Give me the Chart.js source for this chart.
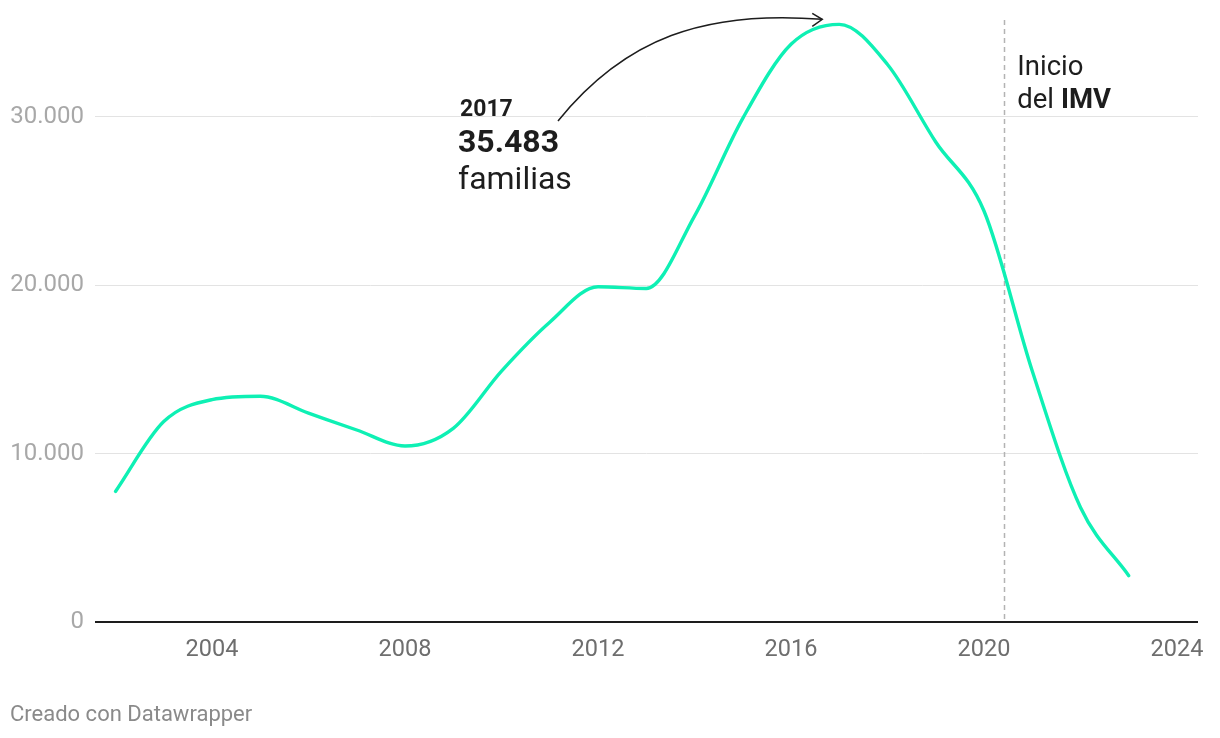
<!DOCTYPE html>
<html lang="es">
<head>
<meta charset="utf-8">
<title>Familias</title>
<script src="https://cdn.jsdelivr.net/npm/chart.js@4/dist/chart.umd.min.js"></script>
<style>
  html, body { margin: 0; padding: 0; background: #fff; }
  #wrap { position: relative; width: 1220px; height: 738px; }
</style>
</head>
<body>
<div id="wrap"><canvas id="chart" width="1220" height="738"></canvas></div>
<script>
// Datos
const years = [2002, 2003, 2004, 2005, 2006, 2007, 2008, 2009, 2010, 2011, 2012,
  2013, 2014, 2015, 2016, 2017, 2018, 2019, 2020, 2021, 2022, 2023];
const familias = [7750, 11900, 13200, 13400, 12400, 11400, 10450, 11500, 14900, 17800, 19900,
  19800, 24100, 29900, 34300, 35483, 33100, 28500, 24400, 14900, 6800, 2750];
const xTicks = [2004, 2008, 2012, 2016, 2020, 2024];
const yTicks = [0, 10000, 20000, 30000];
const imvStart = 2020.42; // Inicio del IMV (junio 2020)
const peakYear = 2017;

const FONT = 'Roboto, "Noto Sans", sans-serif';

function fmtMiles(v) {
  return String(v).replace(/\B(?=(\d{3})+(?!\d))/g, '.');
}

// Linea discontinua + anotaciones
const extras = {
  id: 'extras',
  beforeDatasetsDraw(chart) {
    const ctx = chart.ctx;
    const x = chart.scales.x, y = chart.scales.y;
    const px = Math.round(x.getPixelForValue(imvStart)) + 0.5;
    ctx.save();
    ctx.strokeStyle = '#b3b3b3';
    ctx.lineWidth = 1.5;
    ctx.setLineDash([5, 4]);
    ctx.beginPath();
    ctx.moveTo(px, 20);
    ctx.lineTo(px, y.getPixelForValue(0));
    ctx.stroke();
    ctx.restore();
  },
  afterDraw(chart) {
    const ctx = chart.ctx;
    const x = chart.scales.x, y = chart.scales.y;
    const peakIdx = years.indexOf(peakYear);
    ctx.save();
    ctx.fillStyle = '#1d1d1d';
    ctx.textAlign = 'left';
    ctx.textBaseline = 'alphabetic';

    // Texto del IMV
    const px = x.getPixelForValue(imvStart) + 13;
    ctx.font = '27.5px ' + FONT;
    ctx.fillText('Inicio', px, 75);
    ctx.fillText('del ', px, 108);
    const w = ctx.measureText('del ').width;
    ctx.font = 'bold 27.5px ' + FONT;
    ctx.fillText('IMV', px + w, 108);

    // Texto del pico
    ctx.font = 'bold 23px ' + FONT;
    ctx.fillText(String(peakYear), 460, 116);
    ctx.font = 'bold 32px ' + FONT;
    ctx.fillText(fmtMiles(familias[peakIdx]), 458, 152);
    ctx.font = '32px ' + FONT;
    ctx.fillText('familias', 458, 189);

    // Flecha curva
    const tx = x.getPixelForValue(peakYear) - 17;
    const ty = y.getPixelForValue(familias[peakIdx]) - 5;
    ctx.strokeStyle = '#1d1d1d';
    ctx.lineWidth = 1.5;
    ctx.beginPath();
    ctx.moveTo(558, 121);
    ctx.bezierCurveTo(625, 38, 705, 10, tx, ty);
    ctx.stroke();
    ctx.beginPath();
    ctx.moveTo(tx - 10, ty - 6);
    ctx.lineTo(tx, ty);
    ctx.lineTo(tx - 10, ty + 7);
    ctx.stroke();

    // Pie
    ctx.fillStyle = '#8a8a8a';
    ctx.font = '22px ' + FONT;
    ctx.fillText('Creado con Datawrapper', 10, 721);
    ctx.restore();
  }
};

const ctx = document.getElementById('chart').getContext('2d');
new Chart(ctx, {
  type: 'line',
  data: {
    datasets: [{
      label: 'Familias',
      data: years.map((yr, i) => ({ x: yr, y: familias[i] })),
      borderColor: '#0ef0b4',
      borderWidth: 3.4,
      pointRadius: 0,
      fill: false,
      cubicInterpolationMode: 'monotone',
      borderCapStyle: 'round',
      clip: false
    }]
  },
  options: {
    responsive: false,
    animation: false,
    layout: { padding: { left: 0, right: 22, top: 0, bottom: 0 } },
    plugins: {
      legend: { display: false },
      tooltip: { enabled: false },
      title: { display: false }
    },
    scales: {
      x: {
        type: 'linear',
        min: 2001.575,
        max: 2024.435,
        afterFit(s) { s.height = 116; },
        afterBuildTicks(s) { s.ticks = xTicks.map(v => ({ value: v })); },
        grid: { display: false, drawTicks: false },
        border: { display: false },
        ticks: {
          padding: 14,
          color: '#6e6e6e',
          font: { family: FONT, size: 23.5 },
          maxRotation: 0,
          autoSkip: false,
          callback: v => String(v)
        }
      },
      y: {
        min: 0,
        max: 35420,
        afterFit(s) { s.width = 95; },
        afterBuildTicks(s) { s.ticks = yTicks.map(v => ({ value: v })); },
        grid: {
          drawTicks: false,
          color: c => c.tick && c.tick.value === 0 ? '#1d1d1d' : '#e3e3e3',
          lineWidth: c => c.tick && c.tick.value === 0 ? 2 : 1
        },
        border: { display: false },
        ticks: {
          padding: 11,
          color: '#a8a8a8',
          font: { family: FONT, size: 24 },
          callback: v => fmtMiles(v)
        }
      }
    }
  },
  plugins: [extras]
});
</script>
</body>
</html>
